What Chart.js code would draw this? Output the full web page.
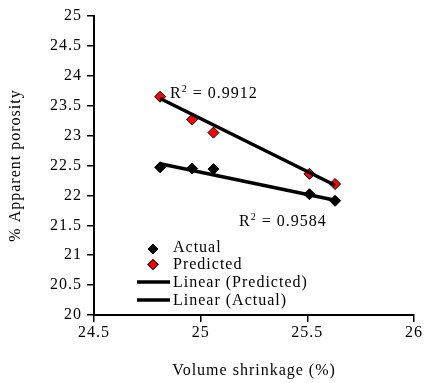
<!DOCTYPE html>
<html>
<head>
<meta charset="utf-8">
<script src="https://cdn.jsdelivr.net/npm/chart.js@4.4.1/dist/chart.umd.min.js"></script>
<style>
  html, body { margin: 0; padding: 0; background: #fff; }
  #wrap { width: 424px; height: 383px; }
</style>
</head>
<body>
<div id="wrap"><canvas id="chart" width="424" height="383"></canvas></div>
<script>
const shrinkage = [24.81, 24.96, 25.06, 25.51, 25.63];
const actual = [22.47, 22.45, 22.44, 22.02, 21.91];
const predicted = [23.65, 23.27, 23.05, 22.36, 22.19];
// trendline ends
const fitX = [24.81, 25.63];
const fitPredicted = [23.62, 22.17];
const fitActual = [22.53, 21.92];
const xTicks = [24.5, 25, 25.5, 26];
const yTicks = [20, 20.5, 21, 21.5, 22, 22.5, 23, 23.5, 24, 24.5, 25];
const r2Predicted = '0.9912';
const r2Actual = '0.9584';

const FONT = 'Liberation Serif';
const SPACING = '1px';
const pts = (xs, ys) => xs.map((x, i) => ({ x: x, y: ys[i] }));

const legendItems = [
  { text: 'Actual', type: 'point', fill: '#000000', y: 246.5, my: 249 },
  { text: 'Predicted', type: 'point', fill: '#ff0000', y: 264, my: 264.5 },
  { text: 'Linear (Predicted)', type: 'line', y: 282, my: 282 },
  { text: 'Linear (Actual)', type: 'line', y: 299.5, my: 300 },
];

function drawR2(ctx, x, y, val) {
  ctx.font = '16px "' + FONT + '"';
  ctx.fillText('R', x, y);
  const w = ctx.measureText('R').width;
  ctx.font = '10px "' + FONT + '"';
  ctx.fillText('2', x + w, y - 6);
  ctx.font = '16px "' + FONT + '"';
  ctx.fillText(' = ' + val, x + w + 6, y);
}

// wider letter spacing like the original print
const spacing = {
  id: 'spacing',
  beforeLayout(chart) { chart.ctx.letterSpacing = SPACING; },
  beforeDraw(chart) { chart.ctx.letterSpacing = SPACING; },
};

const overlay = {
  id: 'overlay',
  afterDraw(chart) {
    const ctx = chart.ctx;
    ctx.save();
    ctx.letterSpacing = SPACING;
    ctx.fillStyle = '#000';
    ctx.textBaseline = 'alphabetic';
    drawR2(ctx, 170, 98, r2Predicted);
    drawR2(ctx, 239, 226, r2Actual);

    ctx.textBaseline = 'middle';
    legendItems.forEach((item) => {
      if (item.type === 'point') {
        ctx.fillStyle = item.fill;
        ctx.strokeStyle = '#000';
        ctx.lineWidth = 1;
        Chart.helpers.drawPoint(ctx, { pointStyle: 'rectRot', radius: 5, borderWidth: 1 }, 153, item.my);
        ctx.fill();
        ctx.stroke();
      } else {
        ctx.strokeStyle = '#000';
        ctx.lineWidth = 3.5;
        ctx.beginPath();
        ctx.moveTo(137, item.my);
        ctx.lineTo(170, item.my);
        ctx.stroke();
      }
      ctx.fillStyle = '#000';
      ctx.font = '16px "' + FONT + '"';
      ctx.fillText(item.text, 173, item.y + 1);
    });
    ctx.restore();
  }
};

const axisCommon = {
  type: 'linear',
  grid: { drawOnChartArea: false, drawTicks: true, tickLength: 7, color: '#000', lineWidth: 1.5 },
  border: { display: true, color: '#000', width: 2 },
  ticks: { color: '#000', font: { family: FONT, size: 16 }, callback: (v) => String(v) },
  title: { display: true, color: '#000', font: { family: FONT, size: 16 } },
};

new Chart(document.getElementById('chart'), {
  type: 'scatter',
  data: {
    datasets: [
      { label: 'Linear (Predicted)', type: 'line', data: pts(fitX, fitPredicted), borderColor: '#000', borderWidth: 3.5, pointRadius: 0, fill: false, order: 0 },
      { label: 'Linear (Actual)', type: 'line', data: pts(fitX, fitActual), borderColor: '#000', borderWidth: 3.5, pointRadius: 0, fill: false, order: 0 },
      { label: 'Actual', data: pts(shrinkage, actual), pointStyle: 'rectRot', pointRadius: 5.5, backgroundColor: '#000', borderColor: '#000', borderWidth: 1, order: 1 },
      { label: 'Predicted', data: pts(shrinkage, predicted), pointStyle: 'rectRot', pointRadius: 5.5, backgroundColor: '#ff0000', borderColor: '#000', borderWidth: 1, order: 1 },
    ]
  },
  options: {
    responsive: false,
    animation: false,
    devicePixelRatio: 1,
    layout: { padding: { top: 16, right: 10, left: 0, bottom: 0 } },
    plugins: { legend: { display: false }, tooltip: { enabled: false } },
    scales: {
      x: Object.assign({}, axisCommon, {
        min: 24.5, max: 26,
        afterBuildTicks: (s) => { s.ticks = xTicks.map(v => ({ value: v })); },
        afterFit: (s) => { s.height = 68; },
        ticks: Object.assign({}, axisCommon.ticks, { padding: 1, maxRotation: 0 }),
        title: Object.assign({}, axisCommon.title, { text: 'Volume shrinkage (%)', padding: { top: 0, bottom: 3 } }),
      }),
      y: Object.assign({}, axisCommon, {
        min: 20, max: 25,
        afterBuildTicks: (s) => { s.ticks = yTicks.map(v => ({ value: v })); },
        afterFit: (s) => { s.width = 94; },
        ticks: Object.assign({}, axisCommon.ticks, { padding: 5 }),
        title: Object.assign({}, axisCommon.title, { text: '% Apparent porosity', padding: { top: 6, bottom: 0 } }),
      }),
    }
  },
  plugins: [spacing, overlay]
});
</script>
</body>
</html>
